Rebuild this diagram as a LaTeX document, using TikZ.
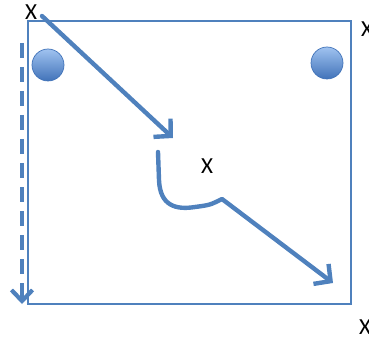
\documentclass[tikz,border=0pt]{standalone}
\usepackage{fontspec}
\setmainfont{Carlito}
\usetikzlibrary{arrows.meta}
\definecolor{offblue}{RGB}{79,129,189}
\definecolor{lightblue}{RGB}{160,195,240}
\definecolor{darkblue}{RGB}{65,115,185}
\tikzset{
  lbl/.style={inner sep=0pt, font=\fontsize{23}{24}\selectfont},
  ball/.style={circle, minimum size=32pt, inner sep=0pt, top color=lightblue, bottom color=darkblue, draw=darkblue, line width=0.7pt},
  thick arrow/.style={draw=offblue, line width=4.4pt, line cap=round, line join=round, -{Straight Barb[length=12pt,width=25pt,line width=4.4pt]}},
  frame/.style={draw=offblue, line width=1.4pt}
}
\begin{document}
\begin{tikzpicture}[x=1pt,y=-1pt]
\useasboundingbox (0,0) rectangle (369,339);
\clip (0,0) rectangle (369,339);
\draw[frame] (28,21) rectangle (351,304);
\node[lbl] (xtl) at (31,12) {X};
\node[lbl, anchor=west] (xtr) at (361,29) {X};
\node[lbl, anchor=west] (xbr) at (359,327) {X};
\node[lbl] (xc) at (207,166) {X};
\node[ball] (b1) at (48,65) {};
\node[ball] (b2) at (327,63) {};
\coordinate (a1s) at (42,16);
\coordinate (a1e) at (173,138);
\draw[thick arrow] (a1s) -- (a1e);
\coordinate (c0) at (158,152);
\coordinate (c1) at (222,199);
\coordinate (c2) at (333,283);
\draw[thick arrow] (c0) -- (159,180) .. controls (160,206) and (176,210) .. (195,207) .. controls (210,205) .. (c1) -- (c2);
\coordinate (ds) at (22,43);
\coordinate (de) at (22,304);
\draw[draw=offblue, line width=4.4pt, dash pattern=on 15pt off 9pt, -{Straight Barb[length=11pt,width=21pt,line width=4.2pt]}] (ds) -- (de);
\end{tikzpicture}
\end{document}
